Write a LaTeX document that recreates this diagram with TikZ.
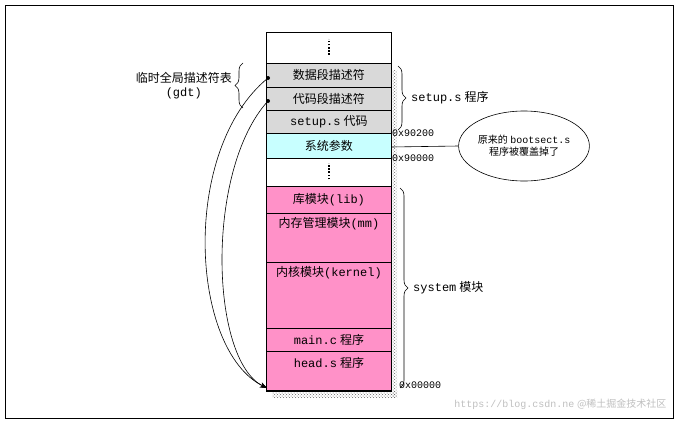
\documentclass[tikz,border=0pt]{standalone}
\usepackage{fontspec}
\setmainfont{Liberation Serif}
\setmonofont{Liberation Mono}
\newfontfamily\cjk{Noto Sans CJK SC}
\usetikzlibrary{decorations.pathreplacing,patterns,arrows.meta,shapes.geometric}
\definecolor{pinkm}{RGB}{255,145,200}
\definecolor{grayc}{RGB}{217,217,217}
\definecolor{cyanc}{RGB}{200,255,255}
\begin{document}
\begin{tikzpicture}[x=1pt,y=-1pt,
  cell/.style={draw,line width=0.8pt,minimum width=125pt,anchor=north west,inner sep=0pt,font=\large},
  brace/.style={decorate,decoration={brace,amplitude=8pt},line width=0.6pt},
  lbl/.style={font=\large,inner sep=1pt},
  dots/.style={line width=2.2pt,dash pattern=on 1.6pt off 1.6pt},
  arr/.style={-{Stealth[length=7pt]},line width=0.6pt}]
\useasboundingbox (0,0) rectangle (679,423);
\draw[line width=0.6pt] (5,5) rectangle (673,418);
% shadow
\fill[pattern=crosshatch dots,pattern color=gray!80!black] (391,70) rectangle (397,397);
\fill[pattern=crosshatch dots,pattern color=gray!80!black] (272,391) rectangle (397,397);
% cells
\node[cell,minimum height=31pt] (d1) at (266,32) {};
\draw[dots] ([yshift=-7pt]d1.center) -- ([yshift=9pt]d1.center);
\node[cell,fill=grayc,minimum height=24pt] (ds) at (266,63) {\cjk 数据段描述符};
\node[cell,fill=grayc,minimum height=23pt] (cs) at (266,87) {\cjk 代码段描述符};
\node[cell,fill=grayc,minimum height=23pt] (su) at (266,110) {\texttt{setup.s} {\cjk 代码}};
\node[cell,fill=cyanc,minimum height=25pt] (sp) at (266,133) {\cjk 系统参数};
\node[cell,minimum height=28pt] (d2) at (266,158) {};
\draw[dots] ([yshift=-7pt]d2.center) -- ([yshift=9pt]d2.center);
\node[cell,fill=pinkm,minimum height=27pt] (lib) at (266,186) {{\cjk 库模块}\texttt{(lib)}};
\node[cell,fill=pinkm,minimum height=49pt,text depth=30pt] (mm) at (266,213) {{\cjk 内存管理模块}\texttt{(mm)}};
\node[cell,fill=pinkm,minimum height=66pt,text depth=48pt] (kn) at (266,262) {{\cjk 内核模块}\texttt{(kernel)}};
\node[cell,fill=pinkm,minimum height=23pt] (mc) at (266,328) {\texttt{main.c} {\cjk 程序}};
\node[cell,fill=pinkm,minimum height=39pt,text depth=16pt] (hs) at (266,351) {\texttt{head.s} {\cjk 程序}};
\draw[line width=1.8pt] (hs.south west) -- (hs.south east);
% addresses
\node[lbl,anchor=west,font=\normalsize\ttfamily] (a1) at (391,133) {0x90200};
\node[lbl,anchor=west,font=\normalsize\ttfamily] (a2) at (391,158) {0x90000};
\node[lbl,anchor=west,font=\normalsize\ttfamily] (a3) at (398,385) {0x00000};
% ellipse
\node[draw,ellipse,line width=0.6pt,minimum width=124pt,minimum height=70pt,inner sep=0pt,align=center,font=\normalsize] (el) at (524,146) {{\cjk 原来的} \texttt{bootsect.s}\\{\cjk 程序被覆盖掉了}};
\coordinate (ep) at (391,147);
\draw[line width=0.6pt] (ep) -- (el.west);
% braces
\draw[brace] (398,66) -- (398,130) coordinate[midway,xshift=12pt] (b1);
\node[lbl,anchor=west] at (b1) {\texttt{setup.s} {\cjk 程序}};
\draw[brace] (400,188) -- (400,388) coordinate[midway,xshift=12pt] (b2);
\node[lbl,anchor=west] at (b2) {\texttt{system} {\cjk 模块}};
\draw[brace] (243,108) -- (243,63) coordinate[midway,xshift=-10pt] (b3);
\node[lbl,anchor=east,align=center] at (b3) {{\cjk 临时全局描述符表}\\\texttt{(gdt)}};
% arrows
\coordinate (p1) at (268,78);
\coordinate (p2) at (268,101);
\coordinate (q) at (267,388);
\fill (p1) circle (2pt) (p2) circle (2pt);
\draw[arr] (p1) .. controls (180,150) and (190,350) .. (q);
\draw[arr] (p2) .. controls (205,170) and (210,360) .. (q);
% watermark
\node[anchor=east,text=gray!50,font=\normalsize] at (670,404) {\texttt{https://blog.csdn.ne} {\cjk @稀土掘金技术社区}};
\end{tikzpicture}
\end{document}
